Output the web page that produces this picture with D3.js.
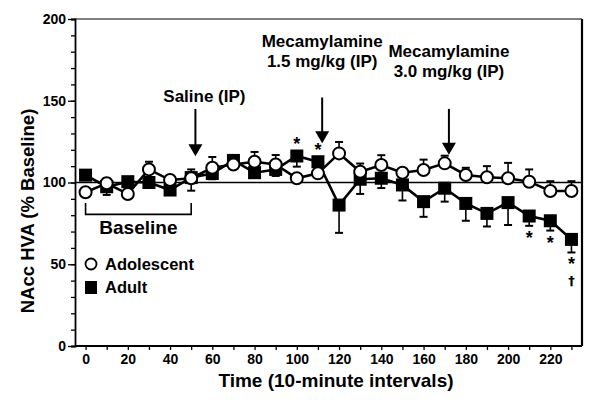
<!DOCTYPE html>
<html>
<head>
<meta charset="utf-8">
<script src="https://cdn.jsdelivr.net/npm/d3@7"></script>
<style>
  html, body { margin: 0; padding: 0; background: #fff; }
  svg text { font-family: "Liberation Sans", Arial, sans-serif; font-weight: bold; fill: #000; }
</style>
</head>
<body>
<svg id="chart" width="601" height="408"></svg>
<script>
// ---- data ----
const times = [0,10,20,30,40,50,60,70,80,90,100,110,120,130,140,150,160,170,180,190,200,210,220,230];
const adolescent    = [94, 99.5, 93, 108, 101.5, 102.6, 109, 111, 112.7, 111, 102.6, 105.6, 117.8, 106.6, 110.7, 106, 107.6, 111.7, 104.6, 103.2, 102.6, 100.5, 94.8, 94.8];
const adolescentErr = [2.5, 3, 2.5, 4.7, 3, 5.4, 6.6, 3, 6, 5.8, 2, 2, 7, 5, 6, 2.5, 6.4, 4.7, 4.4, 6.8, 9.4, 7.5, 6, 6];
const adult         = [104.5, 97.4, 100.5, 100, 95.4, 103, 105.5, 113.5, 106, 108, 116.2, 112.7, 86.2, 102, 102.6, 98.5, 88.3, 96.5, 87.2, 81.1, 87.7, 79.5, 76.6, 65.2];
const adultErr      = [3, 5, 2, 3, 3, 8, 3.5, 2, 3, 4, 6.5, 3, 17, 9, 6, 9.5, 9.3, 8.2, 10.6, 8, 13.7, 6, 6, 8];
const yTicks = [0, 50, 100, 150, 200];
const xTicks = [0, 20, 40, 60, 80, 100, 120, 140, 160, 180, 200, 220];
const seriesNames = ["Adolescent", "Adult"];
// significance marks: [time, symbol, position relative to adult point]
const marks = [[100, "*", "above"], [110, "*", "above"], [210, "*", "below"], [220, "*", "below"], [230, "*", "below"], [230, "\u2020", "below2"]];
// injections: [time, text lines]
const injections = [[52, ["Saline (IP)"]], [112, ["Mecamylamine", "1.5 mg/kg (IP)"]], [172, ["Mecamylamine", "3.0 mg/kg (IP)"]]];
const baselineRange = [0, 50];
const referenceValue = 100;

// ---- scales ----
const svg = d3.select("#chart");
const x = d3.scaleLinear().domain([-5, 235]).range([75, 582]);
const y = d3.scaleLinear().domain([0, 200]).range([346, 19]);

// frame
const frame = svg.append("g").attr("fill", "none").attr("stroke", "#000");
frame.append("line").attr("x1", x(-5)).attr("x2", x(235)).attr("y1", y(200)).attr("y2", y(200)).attr("stroke-width", 1.2);
frame.append("line").attr("x1", x(235)).attr("x2", x(235)).attr("y1", y(200)).attr("y2", y(0)).attr("stroke-width", 2.2);

// y axis
const yAxis = svg.append("g").attr("transform", `translate(${x(-5)},0)`)
  .call(d3.axisLeft(y).tickValues(d3.range(0, 201, 10)).tickSize(4).tickFormat(""));
yAxis.call(g => g.selectAll(".tick line").attr("stroke-width", 1.3));
yAxis.call(g => g.select(".domain").attr("stroke-width", 1.8));
svg.append("g").attr("transform", `translate(${x(-5)},0)`)
  .call(d3.axisLeft(y).tickValues(yTicks).tickSize(7).tickPadding(2))
  .call(g => g.select(".domain").remove())
  .call(g => g.selectAll(".tick line").attr("stroke-width", 1.3))
  .call(g => g.selectAll(".tick text").attr("font-size", 14).attr("font-family", "Liberation Sans, Arial").attr("font-weight", "bold"));

// x axis
const xAxis = svg.append("g").attr("transform", `translate(0,${y(0)})`)
  .call(d3.axisBottom(x).tickValues(d3.range(0, 231, 10)).tickSize(4).tickFormat(""));
xAxis.call(g => g.select(".domain").attr("stroke-width", 1.8).attr("d", `M${x(-5)},0H${x(235)}`));
xAxis.call(g => g.selectAll(".tick line").attr("stroke-width", 1.3));
svg.append("g").attr("transform", `translate(0,${y(0)})`)
  .call(d3.axisBottom(x).tickValues(xTicks).tickSize(0).tickPadding(8))
  .call(g => g.select(".domain").remove())
  .call(g => g.selectAll(".tick text").attr("font-size", 14).attr("font-family", "Liberation Sans, Arial").attr("font-weight", "bold"));

// axis titles
svg.append("text").attr("x", 336).attr("y", 387).attr("text-anchor", "middle").attr("font-size", 19)
  .text("Time (10-minute intervals)");
svg.append("text").attr("transform", `translate(34,211) rotate(-90)`).attr("text-anchor", "middle").attr("font-size", 18.5)
  .text("NAcc HVA (% Baseline)");

// reference line at 100
svg.append("line").attr("x1", x(-5)).attr("x2", x(235)).attr("y1", y(referenceValue)).attr("y2", y(referenceValue))
  .attr("stroke", "#000").attr("stroke-width", 1.6);

// baseline bracket
const by = y(80.5), bt = y(87.5);
svg.append("path").attr("fill", "none").attr("stroke", "#000").attr("stroke-width", 1.6)
  .attr("d", `M${x(baselineRange[0])},${bt}V${by}H${x(baselineRange[1])}V${bt}`);
svg.append("text").attr("x", (x(baselineRange[0]) + x(baselineRange[1])) / 2).attr("y", y(68.5)).attr("text-anchor", "middle")
  .attr("font-size", 19).text("Baseline");

// injection arrows and labels
const arrowBottoms = [y(116), y(124), y(117)];
const arrowTops = [y(145), y(152), y(145)];
const labelBaselines = [y(149.5), y(170.5), y(164.5)];
injections.forEach((inj, i) => {
  const cx = x(inj[0]);
  const yb = arrowBottoms[i], yt = arrowTops[i];
  svg.append("line").attr("x1", cx).attr("x2", cx).attr("y1", yt).attr("y2", yb - 10).attr("stroke", "#000").attr("stroke-width", 2);
  svg.append("path").attr("d", `M${cx - 7},${yb - 12}L${cx + 7},${yb - 12}L${cx},${yb}Z`).attr("fill", "#000");
  const lines = inj[1];
  lines.forEach((t, j) => {
    svg.append("text").attr("x", cx + (lines.length === 1 ? 9 : 0)).attr("y", labelBaselines[i] - (lines.length - 1 - j) * 20)
      .attr("text-anchor", "middle").attr("font-size", 17).text(t);
  });
});

// series drawing
const line = d3.line().x((d, i) => x(times[i])).y(d => y(d));

function drawErr(vals, errs, dir) {
  const g = svg.append("g").attr("stroke", "#000").attr("stroke-width", 1.6);
  vals.forEach((v, i) => {
    const cx = x(times[i]);
    const ye = y(v + dir * errs[i]);
    g.append("line").attr("x1", cx).attr("x2", cx).attr("y1", y(v)).attr("y2", ye);
    g.append("line").attr("x1", cx - 4).attr("x2", cx + 4).attr("y1", ye).attr("y2", ye).attr("stroke-width", 2);
  });
}

// adult (filled squares)
drawErr(adult, adultErr, -1);
svg.append("path").datum(adult).attr("d", line).attr("fill", "none").attr("stroke", "#000").attr("stroke-width", 2.6);
svg.append("g").selectAll("rect").data(adult).join("rect")
  .attr("x", (d, i) => x(times[i]) - 6.5).attr("y", d => y(d) - 6.5).attr("width", 13).attr("height", 13).attr("fill", "#000");

// adolescent (open circles)
drawErr(adolescent, adolescentErr, 1);
svg.append("path").datum(adolescent).attr("d", line).attr("fill", "none").attr("stroke", "#000").attr("stroke-width", 2.6);
svg.append("g").selectAll("circle").data(adolescent).join("circle")
  .attr("cx", (d, i) => x(times[i])).attr("cy", d => y(d)).attr("r", 6).attr("fill", "#fff").attr("stroke", "#000").attr("stroke-width", 2);

// significance marks
marks.forEach(m => {
  const i = times.indexOf(m[0]);
  let yy;
  if (m[2] === "above") yy = y(adult[i]) - 6;
  else if (m[2] === "below") yy = y(adult[i] - adultErr[i]) + 18;
  else yy = y(adult[i] - adultErr[i]) + 33;
  const t = svg.append("text").attr("x", x(m[0])).attr("y", yy).attr("text-anchor", "middle")
    .attr("fill", "#000").style("fill", "#000").text(m[1]);
  if (m[1] === "*") t.attr("font-size", 18);
  else t.attr("font-size", 13).style("font-family", "'DejaVu Sans', sans-serif");
});

// legend
const lg = svg.append("g");
lg.append("circle").attr("cx", 91).attr("cy", 264).attr("r", 5.5).attr("fill", "#fff").attr("stroke", "#000").attr("stroke-width", 1.8);
lg.append("text").attr("x", 105).attr("y", 270).attr("font-size", 16.5).text(seriesNames[0]);
lg.append("rect").attr("x", 85).attr("y", 281).attr("width", 12).attr("height", 13).attr("fill", "#000");
lg.append("text").attr("x", 105).attr("y", 293).attr("font-size", 16.5).text(seriesNames[1]);
</script>
</body>
</html>
